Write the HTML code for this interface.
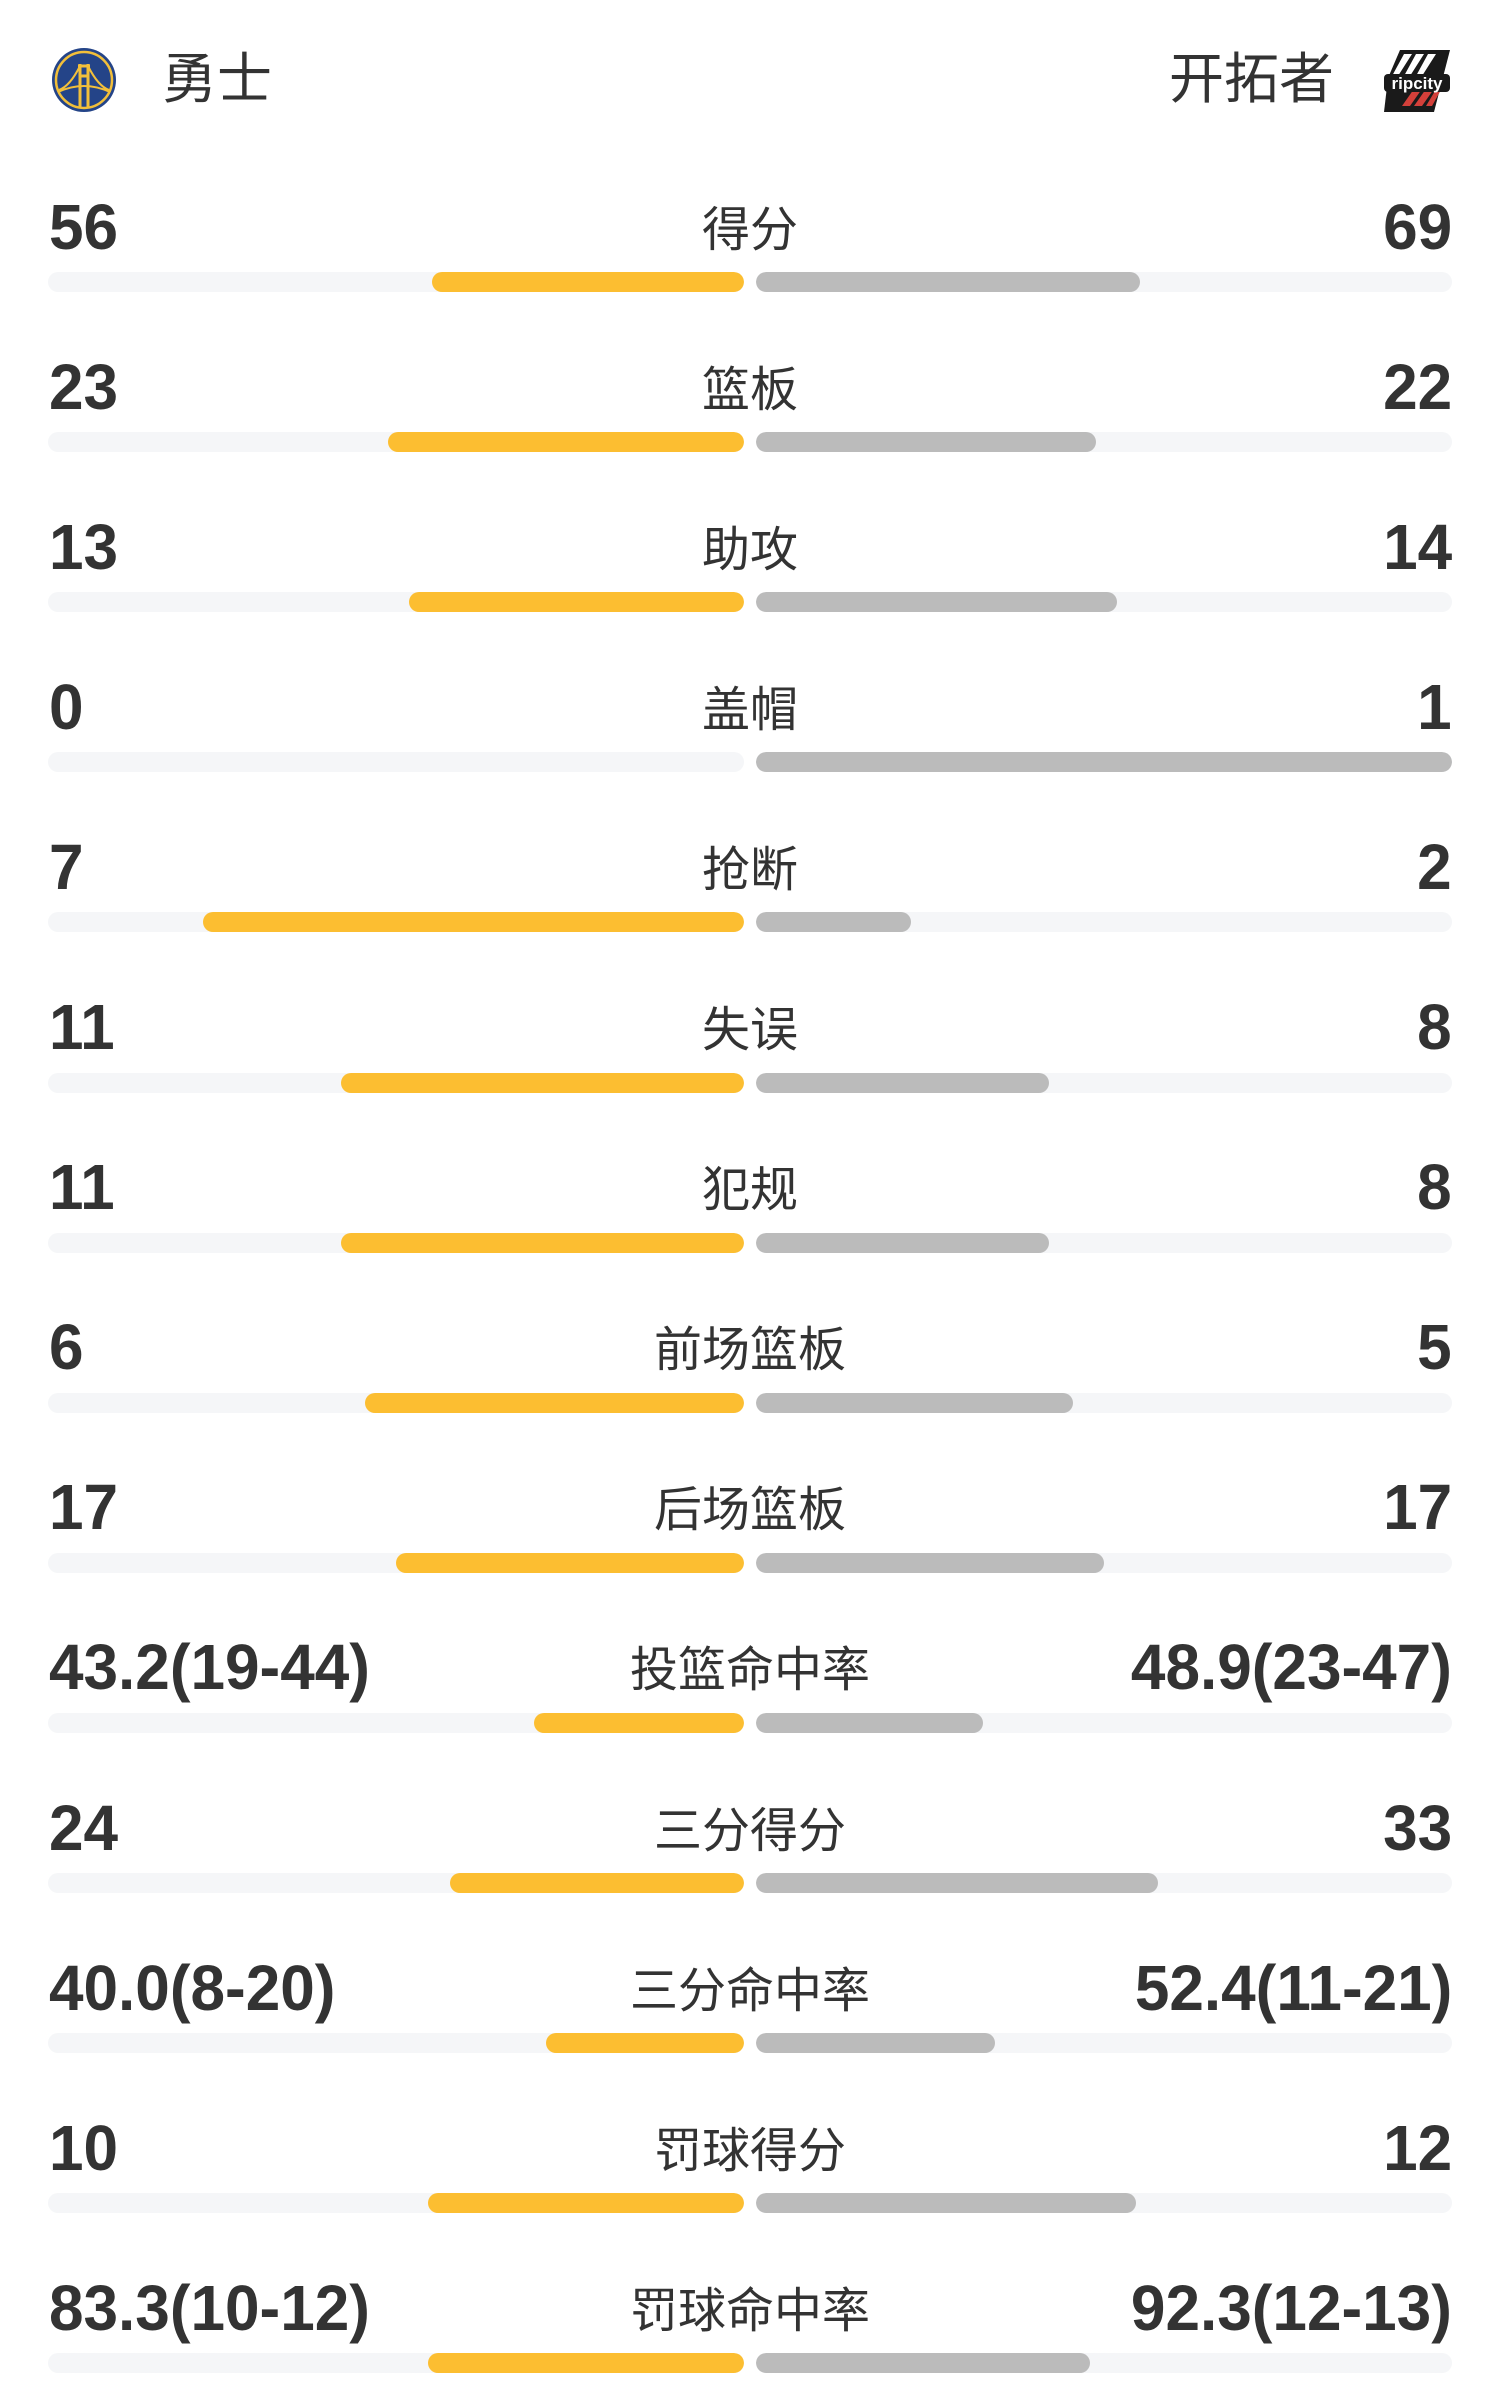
<!DOCTYPE html>
<html><head><meta charset="utf-8"><style>
body{margin:0;width:1500px;height:2400px;background:#fff;position:relative;overflow:hidden;color:#333;font-family:"Liberation Sans","Noto Sans CJK SC",sans-serif}
.t{position:absolute;font-size:55px;line-height:1;top:52px}
.num{position:absolute;font-weight:bold;font-size:64px;line-height:64px;white-space:nowrap}
.nl{left:49px;transform:scaleX(.97);transform-origin:left center}
.nr{right:48px;transform:scaleX(.97);transform-origin:right center}
.lab{position:absolute;left:500px;width:500px;text-align:center;font-size:48px;line-height:48px;font-family:"Noto Sans CJK SC",sans-serif}
.trk{position:absolute;height:20px;border-radius:10px;background:#f5f6f8;width:696px;overflow:hidden}
.tl{left:48px}.tr{left:756px}
.b{position:absolute;top:0;height:20px;border-radius:10px}
.y{background:#fcbe31;right:0}.g{background:#bbbbbb;left:0}
</style></head><body>
<svg style="position:absolute;left:50px;top:46px" width="68" height="68" viewBox="0 0 68 68">
<circle cx="34" cy="34" r="32" fill="#244488"/>
<circle cx="34" cy="34" r="28" fill="none" stroke="#f2bf3a" stroke-width="2.5"/>
<path d="M30 18 L30 62 M38 18 L38 62 M28 20 L40 20 M30 30 L38 30" stroke="#f2bf3a" stroke-width="3" fill="none"/>
<path d="M8 46 Q34 34 60 46 M30 20 Q20 40 9 44 M38 20 Q48 40 59 44" stroke="#f2bf3a" stroke-width="2" fill="none"/>
</svg>
<div class="t" style="left:162px">勇士</div>
<div class="t" style="right:166px">开拓者</div>
<svg style="position:absolute;left:1382px;top:48px" width="70" height="66" viewBox="0 0 70 66">
<path d="M18 2 L68 2 L52 64 L2 64 L6 30 Z" fill="#1a1a1a"/>
<path d="M22 6 L30 6 L16 28 L10 28 Z M34 6 L42 6 L28 28 L22 28 Z M46 6 L54 6 L40 28 L34 28 Z" fill="#fff"/>
<path d="M20 58 L28 58 L42 38 L34 38 Z M32 58 L40 58 L54 38 L46 38 Z M44 58 L50 58 L60 40 L56 38 Z" fill="#d4403a"/>
<rect x="2" y="26" width="66" height="18" rx="4" fill="#1a1a1a"/>
<text x="35" y="41" text-anchor="middle" font-family="Liberation Sans" font-weight="bold" font-size="17" fill="#fff">ripcity</text>
</svg>
<div id="rows"></div>
<script>
var d=[["56","得分","69",.448,.552],["23","篮板","22",.511,.489],["13","助攻","14",.481,.519],["0","盖帽","1",0,1],["7","抢断","2",.778,.222],["11","失误","8",.579,.421],["11","犯规","8",.579,.421],["6","前场篮板","5",.545,.455],["17","后场篮板","17",.5,.5],["43.2(19-44)","投篮命中率","48.9(23-47)",.302,.326],["24","三分得分","33",.423,.577],["40.0(8-20)","三分命中率","52.4(11-21)",.284,.344],["10","罚球得分","12",.454,.546],["83.3(10-12)","罚球命中率","92.3(12-13)",.454,.48]];
var h="";
d.forEach(function(r,i){var c=226.5+i*160.1,bc=282+i*160.1;
h+='<div class="num nl" style="top:'+(c-32)+'px">'+r[0]+'</div>';
h+='<div class="num nr" style="top:'+(c-32)+'px">'+r[2]+'</div>';
h+='<div class="lab" style="top:'+(c-26)+'px">'+r[1]+'</div>';
h+='<div class="trk tl" style="top:'+(bc-10)+'px"><div class="b y" style="width:'+(r[3]*696)+'px"></div></div>';
h+='<div class="trk tr" style="top:'+(bc-10)+'px"><div class="b g" style="width:'+(r[4]*696)+'px"></div></div>';});
document.getElementById("rows").innerHTML=h;
</script>
</body></html>
